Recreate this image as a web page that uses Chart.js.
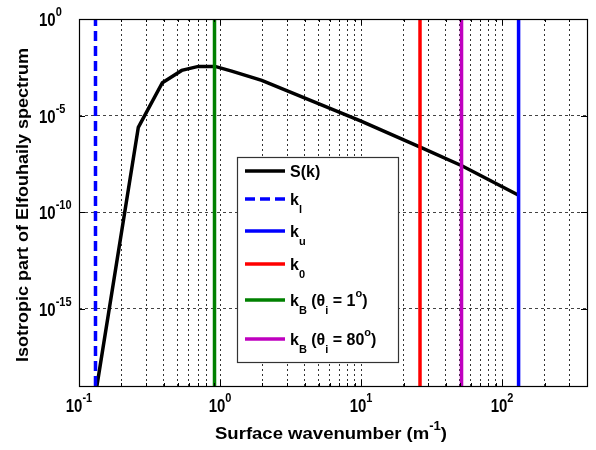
<!DOCTYPE html>
<html>
<head>
<meta charset="utf-8">
<script src="https://cdn.jsdelivr.net/npm/chart.js@4.4.0/dist/chart.umd.min.js"></script>
<style>
html, body { margin: 0; padding: 0; background: #fff; }
</style>
</head>
<body>
<canvas id="mycanvas" width="596" height="450"></canvas>
<script>
// S(k) curve
var kValues = [0.1309, 0.2634, 0.390, 0.535, 0.702, 0.922, 1.21, 1.976, 10, 26.5, 51.8, 127, 130.9];
var sValues = [3.5e-20, 2.47e-6, 5.0e-4, 2.18e-3, 3.52e-3, 3.52e-3, 2.0e-3, 6.6e-4, 5.2e-6, 2.25e-7, 2.52e-8, 8.5e-10, 7.6e-10];

// vertical marker wavenumbers
var kLower = 0.1309;
var kUpper = 130.9;
var k0 = 26.18;
var kB1 = 0.9138;
var kB80 = 51.57;

// axis range and ticks
var xRange = [0.1, 400];
var yRange = [1e-19, 1];
var xTicks = [];
for (var e = -1; e <= 2; e++) {
    for (var m = 1; m <= 9; m++) {
        var v = m * Math.pow(10, e);
        if (v <= 400.0001) xTicks.push(+v.toPrecision(3));
    }
}
var xMajor = [0.1, 1, 10, 100];
var xMajorExp = ['-1', '0', '1', '2'];
var yTicks = [1e-15, 1e-10, 1e-5, 1];
var yTickExp = ['-15', '-10', '-5', '0'];

var FONT = "'Liberation Sans', Arial, sans-serif";

function vline(k) {
    return [{x: k, y: yRange[0]}, {x: k, y: yRange[1]}];
}

var curve = [];
for (var i = 0; i < kValues.length; i++) {
    curve.push({x: kValues[i], y: sValues[i]});
}

function partsWidth(ctx, parts) {
    var w = 0;
    parts.forEach(function(p) {
        ctx.font = 'bold ' + p.size + 'px ' + FONT;
        w += ctx.measureText(p.t).width;
    });
    return w;
}

function drawParts(ctx, parts, x, y) {
    var cx = x;
    parts.forEach(function(p) {
        ctx.font = 'bold ' + p.size + 'px ' + FONT;
        ctx.fillText(p.t, cx, y + (p.dy || 0));
        cx += ctx.measureText(p.t).width;
    });
}

var legendItems = [
    {parts: [{t: 'S(k)', size: 16}], y: 171},
    {parts: [{t: 'k', size: 16}, {t: 'l', size: 11, dy: 8}], y: 199},
    {parts: [{t: 'k', size: 16}, {t: 'u', size: 11, dy: 8}], y: 231},
    {parts: [{t: 'k', size: 16}, {t: '0', size: 11, dy: 8}], y: 264},
    {parts: [{t: 'k', size: 16}, {t: 'B', size: 11, dy: 8}, {t: ' (θ', size: 16}, {t: 'i', size: 11, dy: 8},
             {t: ' = 1', size: 16}, {t: 'o', size: 11, dy: -9}, {t: ')', size: 16}], y: 300},
    {parts: [{t: 'k', size: 16}, {t: 'B', size: 11, dy: 8}, {t: ' (θ', size: 16}, {t: 'i', size: 11, dy: 8},
             {t: ' = 80', size: 16}, {t: 'o', size: 11, dy: -9}, {t: ')', size: 16}], y: 339}
];

var decorations = {
    id: 'decorations',
    afterDraw: function(chart) {
        var ctx = chart.ctx;
        var a = chart.chartArea;
        var xs = chart.scales.x, ys = chart.scales.y;
        ctx.save();
        ctx.fillStyle = '#000';
        ctx.textBaseline = 'alphabetic';
        ctx.textAlign = 'left';

        // inward tick marks
        ctx.strokeStyle = '#000';
        ctx.lineWidth = 1;
        ctx.beginPath();
        xTicks.forEach(function(v) {
            var px = Math.round(xs.getPixelForValue(v)) + 0.5;
            var len = xMajor.indexOf(v) >= 0 ? 6 : 3;
            ctx.moveTo(px, a.bottom); ctx.lineTo(px, a.bottom - len);
            ctx.moveTo(px, a.top); ctx.lineTo(px, a.top + len);
        });
        yTicks.forEach(function(v) {
            var py = Math.round(ys.getPixelForValue(v)) + 0.5;
            ctx.moveTo(a.left, py); ctx.lineTo(a.left + 6, py);
            ctx.moveTo(a.right, py); ctx.lineTo(a.right - 6, py);
        });
        ctx.stroke();

        // legend box
        var lx = 237, ly = 157, lw = 161, lh = 205;
        ctx.fillStyle = '#fff';
        ctx.fillRect(lx, ly, lw, lh);
        ctx.strokeStyle = '#333';
        ctx.lineWidth = 1.2;
        ctx.strokeRect(lx + 0.5, ly + 0.5, lw, lh);
        ctx.fillStyle = '#000';
        chart.data.datasets.forEach(function(ds, idx) {
            var item = legendItems[idx];
            ctx.save();
            ctx.strokeStyle = ds.borderColor;
            ctx.lineWidth = ds.borderWidth;
            ctx.setLineDash(ds.borderDash || []);
            ctx.beginPath();
            ctx.moveTo(245, item.y); ctx.lineTo(285, item.y);
            ctx.stroke();
            ctx.restore();
            drawParts(ctx, item.parts, 290, item.y + 6);
        });

        // tick labels with exponents
        var sy = 1.2;
        xMajor.forEach(function(v, j) {
            var parts = [{t: '10', size: 15}, {t: xMajorExp[j], size: 11, dy: -10 / sy}];
            var w = partsWidth(ctx, parts);
            ctx.save();
            ctx.translate(xs.getPixelForValue(v), 412);
            ctx.scale(1, sy);
            drawParts(ctx, parts, -w / 2, 0);
            ctx.restore();
        });
        yTicks.forEach(function(v, j) {
            var parts = [{t: '10', size: 15}, {t: yTickExp[j], size: 11, dy: -10 / sy}];
            ctx.save();
            ctx.translate(39, ys.getPixelForValue(v) + 7);
            ctx.scale(1, sy);
            drawParts(ctx, parts, 0, 0);
            ctx.restore();
        });

        // x title
        var xt = [{t: 'Surface wavenumber (m', size: 17}, {t: '-1', size: 12, dy: -9}, {t: ')', size: 17}];
        var xw = partsWidth(ctx, xt);
        ctx.save();
        ctx.translate(331, 439);
        ctx.scale(232 / xw, 1);
        drawParts(ctx, xt, -xw / 2, 0);
        ctx.restore();

        // y title
        var yt = [{t: 'Isotropic part of Elfouhaily spectrum', size: 16}];
        var yw = partsWidth(ctx, yt);
        ctx.save();
        ctx.translate(28, 205);
        ctx.rotate(-Math.PI / 2);
        ctx.scale(314 / yw, 1);
        drawParts(ctx, yt, -yw / 2, 0);
        ctx.restore();

        // axes box
        ctx.strokeStyle = '#000';
        ctx.lineWidth = 1.2;
        ctx.strokeRect(a.left + 0.5, a.top + 0.5, a.right - a.left, a.bottom - a.top);
        ctx.restore();
    }
};

var ctx = document.getElementById('mycanvas');
var chart = new Chart(ctx, {
    type: 'scatter',
    data: {
        datasets: [
            {label: 'S(k)', data: curve, borderColor: '#000', borderWidth: 3.5, order: 1},
            {label: 'k_l', data: vline(kLower), borderColor: '#0000ff', borderWidth: 3.5, borderDash: [10, 5], order: 0},
            {label: 'k_u', data: vline(kUpper), borderColor: '#0000ff', borderWidth: 3.5, order: 0},
            {label: 'k_0', data: vline(k0), borderColor: '#ff0000', borderWidth: 3.5, order: 0},
            {label: 'kB1', data: vline(kB1), borderColor: '#008000', borderWidth: 3.5, order: 0},
            {label: 'kB80', data: vline(kB80), borderColor: '#bf00bf', borderWidth: 3.5, order: 0}
        ]
    },
    options: {
        responsive: false,
        animation: false,
        devicePixelRatio: 1,
        showLine: true,
        elements: {
            point: {radius: 0, hoverRadius: 0},
            line: {tension: 0, fill: false}
        },
        layout: {padding: {top: 19, right: 9, left: 0, bottom: 0}},
        plugins: {legend: {display: false}, tooltip: {enabled: false}},
        events: [],
        scales: {
            x: {
                type: 'logarithmic',
                min: xRange[0],
                max: xRange[1],
                afterBuildTicks: function(scale) {
                    scale.ticks = xTicks.map(function(v) { return {value: v}; });
                },
                afterFit: function(scale) { scale.height = 64; },
                ticks: {display: false},
                grid: {color: '#333', lineWidth: 1, drawTicks: false},
                border: {display: false, dash: [2, 3]}
            },
            y: {
                type: 'logarithmic',
                min: yRange[0],
                max: yRange[1],
                afterBuildTicks: function(scale) {
                    scale.ticks = yTicks.map(function(v) { return {value: v}; });
                },
                afterFit: function(scale) { scale.width = 79; },
                ticks: {display: false},
                grid: {color: '#444', lineWidth: 1, drawTicks: false},
                border: {display: false, dash: [3, 3]}
            }
        }
    },
    plugins: [decorations]
});
</script>
</body>
</html>
